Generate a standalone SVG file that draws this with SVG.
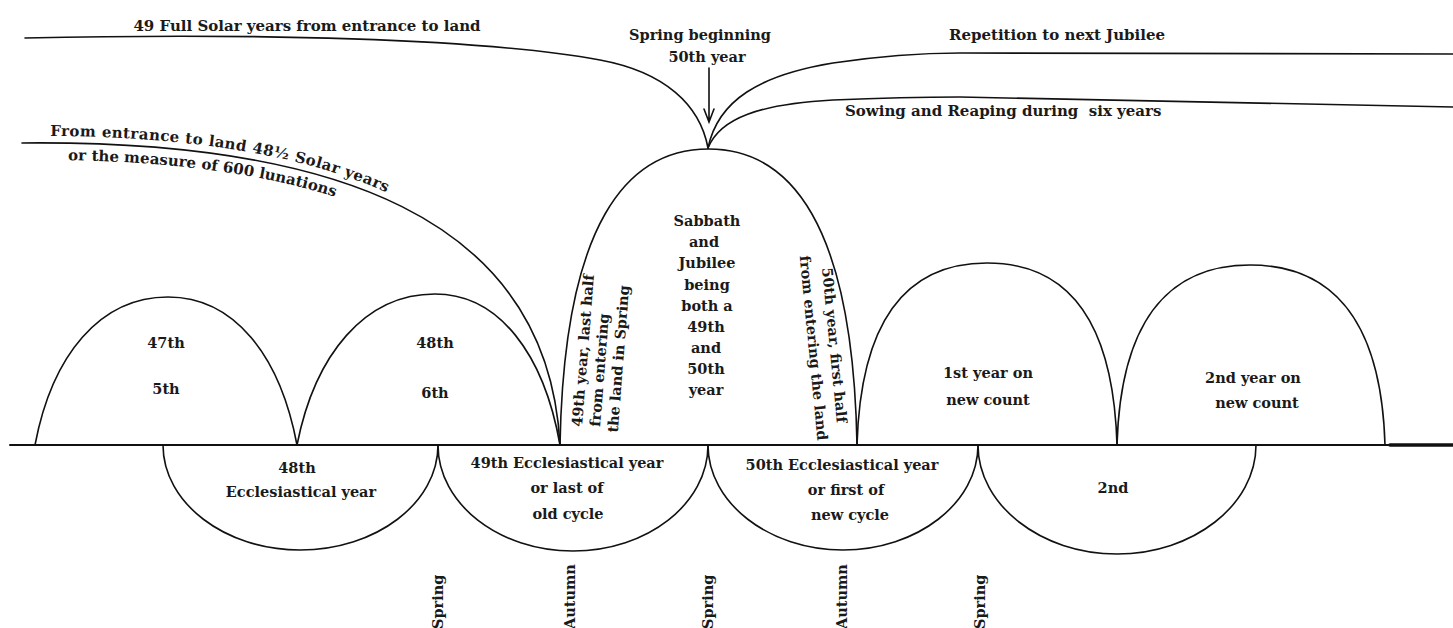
<svg xmlns="http://www.w3.org/2000/svg" width="1453" height="628" viewBox="0 0 1453 628">
<style>
.ln{fill:none;stroke:#111;stroke-width:1.6;stroke-linecap:round}
.t{font-family:"DejaVu Serif","Liberation Serif",serif;font-weight:bold;font-size:14.5px;fill:#1a1a1a}
.big{font-size:15px}
.cv{font-size:15px;letter-spacing:0.4px}
.cv2{font-size:15px}
.m{text-anchor:middle}
</style>
<defs>
<path id="pA" d="M22,136 C330,133 548,208 560,438"/>
<path id="pB" d="M22,160 C330,157 548,232 560,462"/>
</defs>
<rect width="1453" height="628" fill="#fff"/>

<g id="connectors">
<path class="ln" d="M10,445 L1453,445" style="stroke-width:2"/>
<path class="ln" d="M1390,445 L1453,445" style="stroke-width:3.5"/>
<path class="ln" d="M25,38 C250,33 480,38 600,60 C665,72 700,105 708,148"/>
<path class="ln" d="M708,148 C718,100 760,75 833,63 C880,56 920,53 960,53 L1453,54"/>
<path class="ln" d="M708,148 C720,118 760,104 833,100 C880,98 920,97 960,97 L1453,107"/>
<path class="ln" d="M22,143 C330,140 548,215 560,445"/>
<path class="ln" d="M709,68 L709,122 M704,109 L709,122 L714,109"/>
</g>

<g id="top-labels">
<text class="t big m" x="307" y="31">49 Full Solar years from entrance to land</text>
<text class="t m" x="700" y="40">Spring beginning</text>
<text class="t m" x="707" y="62">50th year</text>
<text class="t big m" x="1057" y="40">Repetition to next Jubilee</text>
<text class="t big" x="845" y="116" xml:space="preserve">Sowing and Reaping during  six years</text>
<text class="t cv"><textPath href="#pA" startOffset="28">From entrance to land 48½ Solar years</textPath></text>
<text class="t cv2"><textPath href="#pB" startOffset="46">or the measure of 600 lunations</textPath></text>
</g>

<g id="arch-47">
<path class="ln" d="M35,445 C52,355 100,297 168,297 C234,297 280,355 297,445"/>
<text class="t m" x="166" y="348">47th</text>
<text class="t m" x="166" y="394">5th</text>
</g>
<g id="arch-48">
<path class="ln" d="M297,445 C315,354 365,294 435,294 C499,294 544,354 560,445"/>
<text class="t m" x="435" y="348">48th</text>
<text class="t m" x="435" y="398">6th</text>
</g>
<g id="arch-sabbath-jubilee">
<path class="ln" d="M560,445 C564,223 627,149 708.5,149 C790,149 853,223 857,445"/>
<text class="t m" x="707" y="226">Sabbath</text>
<text class="t m" x="704" y="247">and</text>
<text class="t m" x="707" y="268">Jubilee</text>
<text class="t m" x="707" y="290">being</text>
<text class="t m" x="707" y="311">both a</text>
<text class="t m" x="706" y="332">49th</text>
<text class="t m" x="706" y="353">and</text>
<text class="t m" x="706" y="374">50th</text>
<text class="t m" x="706" y="395">year</text>
<g transform="translate(582,427) rotate(-85.5)">
<text class="t" x="0" y="0">49th year, last half</text>
<text class="t" x="1.5" y="18">from entering</text>
<text class="t" x="-3" y="36">the land in Spring</text>
</g>
<g transform="translate(822,268) rotate(84.5)">
<text class="t" x="0" y="0">50th year, first half</text>
<text class="t" x="-14" y="21">from entering the land</text>
</g>
</g>
<g id="arch-1st-new">
<path class="ln" d="M857,445 C861,308.5 915.5,263 987,263 C1058.5,263 1113,308.5 1117,445"/>
<text class="t m" x="988" y="378">1st year on</text>
<text class="t m" x="988" y="405">new count</text>
</g>
<g id="arch-2nd-new">
<path class="ln" d="M1117,445 C1121,310 1177,265 1250,265 C1324,265 1381,310 1385,445"/>
<text class="t m" x="1253" y="383">2nd year on</text>
<text class="t m" x="1257" y="408">new count</text>
</g>

<g id="eccl-48">
<path class="ln" d="M163,445 C163,503 225,550 300,550 C376,550 438,503 438,445"/>
<text class="t m" x="297" y="473">48th</text>
<text class="t m" x="301" y="497">Ecclesiastical year</text>
</g>
<g id="eccl-49">
<path class="ln" d="M438,445 C438,504 499,551 573,551 C647,551 708,504 708,445"/>
<text class="t m" x="567" y="468">49th Ecclesiastical year</text>
<text class="t m" x="567" y="493">or last of</text>
<text class="t m" x="568" y="519">old cycle</text>
</g>
<g id="eccl-50">
<path class="ln" d="M708,445 C708,503 769,550 843,550 C917,550 978,503 978,445"/>
<text class="t m" x="842" y="470">50th Ecclesiastical year</text>
<text class="t m" x="846" y="495">or first of</text>
<text class="t m" x="850" y="520">new cycle</text>
</g>
<g id="eccl-2nd">
<path class="ln" d="M978,445 C978,505 1041,554 1117,554 C1193,554 1256,505 1256,445"/>
<text class="t m" x="1113" y="493">2nd</text>
</g>

<g id="seasons">
<text class="t" transform="translate(443,629) rotate(-90)">Spring</text>
<text class="t" transform="translate(575,629) rotate(-90)">Autumn</text>
<text class="t" transform="translate(713,629) rotate(-90)">Spring</text>
<text class="t" transform="translate(847,629) rotate(-90)">Autumn</text>
<text class="t" transform="translate(985,629) rotate(-90)">Spring</text>
</g>
</svg>
